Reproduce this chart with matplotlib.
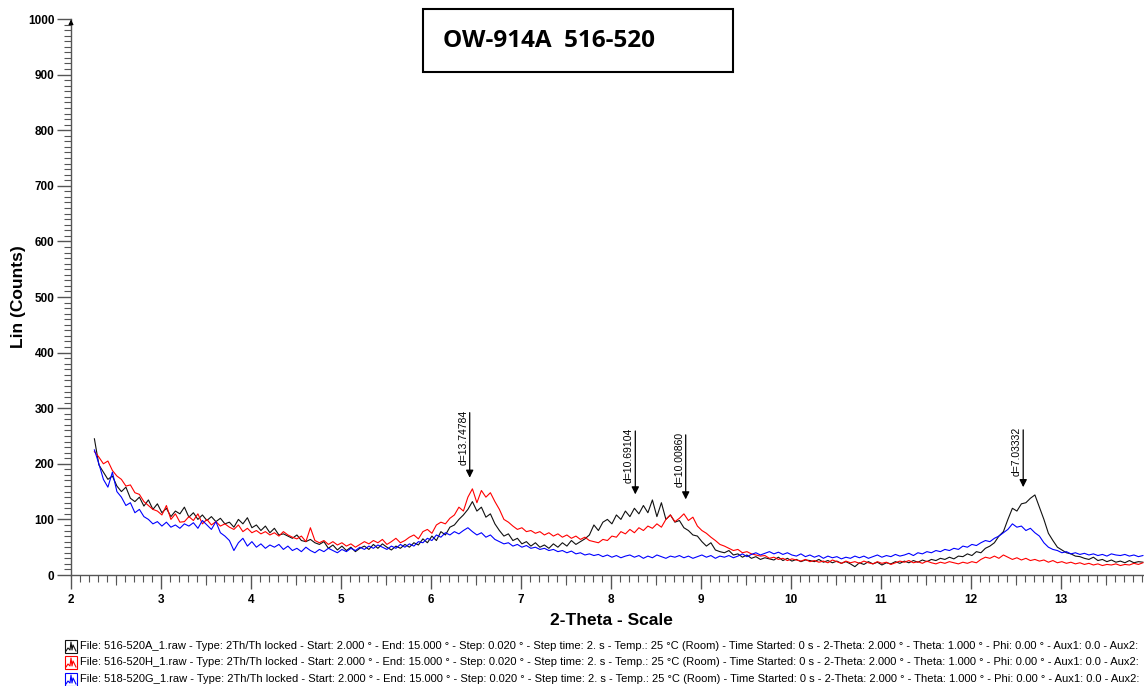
import numpy as np
import matplotlib
matplotlib.use("Agg")
import matplotlib.pyplot as plt
from matplotlib.patches import Rectangle
from matplotlib.lines import Line2D

start_2theta = 2.26
step_2theta = 0.05

counts_a = [
    245, 198, 185, 172, 178, 160, 150, 158, 138, 132,
    140, 124, 135, 118, 128, 112, 120, 105, 115, 110,
    122, 104, 112, 100, 108, 98, 105, 96, 102, 92,
    95, 86, 100, 92, 103, 85, 90, 80, 88, 76,
    84, 72, 74, 70, 66, 72, 62, 60, 64, 58,
    55, 60, 48, 54, 45, 52, 44, 50, 42, 48,
    52, 46, 55, 48, 56, 50, 45, 52, 48, 55,
    50, 58, 54, 65, 58, 70, 62, 78, 72, 86,
    90, 100, 108, 118, 132, 115, 122, 104, 110, 92,
    80, 70, 74, 62, 66, 56, 60, 52, 58, 50,
    54, 48, 56, 50, 58, 52, 62, 55, 60, 65,
    72, 90, 80, 95, 100, 92, 108, 100, 115, 105,
    120, 110, 125, 112, 135, 105, 130, 100, 108, 95,
    98, 85, 80, 72, 70, 60, 52, 58, 45, 42,
    40, 44, 36, 38, 32, 36, 30, 33, 28, 31,
    29, 27, 32, 26, 30, 25, 28, 24, 27, 26,
    24, 28, 23, 26, 22, 25, 21, 24, 20, 15,
    22, 19, 24, 20, 23, 18, 22, 20, 24, 21,
    25, 22, 26, 23, 27, 24, 28, 26, 30, 28,
    32, 29, 34, 33, 38, 35, 42, 40, 48, 52,
    58, 70, 78, 100, 120, 115, 128, 130, 138, 144,
    122, 100, 75, 62, 50, 45, 40, 38, 34, 33,
    30, 28, 32, 26, 28, 24, 27, 23, 25, 22,
    26, 22, 24, 23,
]

counts_h = [
    222, 212, 200, 205, 188, 178, 172, 160, 162, 148,
    145, 132, 125, 118, 115, 108, 125, 100, 110, 95,
    96, 105, 98, 110, 92, 100, 90, 96, 88, 92,
    86, 82, 90, 78, 84, 76, 80, 74, 78, 72,
    76, 70, 78, 72, 68, 65, 70, 60, 85, 62,
    58, 62, 55, 60, 54, 58, 52, 56, 50, 55,
    60, 56, 62, 58, 64, 55, 60, 66, 58, 62,
    68, 72, 65, 78, 82, 75, 90, 95, 92, 102,
    108, 122, 115, 140, 155, 130, 152, 140, 148, 132,
    118, 100, 95, 88, 82, 85, 78, 80, 75, 78,
    72, 76, 70, 74, 68, 72, 66, 70, 64, 68,
    62, 60, 58, 64, 62, 70, 68, 78, 74, 82,
    76, 85, 80, 88, 84, 92, 86, 100, 108, 96,
    102, 110, 98, 104, 88, 80, 75, 68, 62, 55,
    52, 48, 44, 46, 40, 42, 38, 36, 34, 35,
    30, 32, 28, 30, 26, 29, 27, 25, 28, 24,
    26, 23, 25, 22, 27, 24, 21, 25, 22, 24,
    21, 25, 22, 20, 24, 21, 23, 19, 22, 25,
    23, 26, 22, 24, 21, 25, 22, 20, 23, 21,
    24, 22, 20, 23, 21, 24, 22, 28, 32, 30,
    34, 30, 36, 32, 28, 31, 27, 30, 26, 28,
    25, 27, 23, 26, 22, 24, 21, 23, 20, 22,
    19, 21, 18, 20, 17, 19, 18, 20, 17, 19,
    18, 21, 19, 22,
]

counts_g = [
    225, 200, 172, 158, 185, 150, 140, 125, 130, 112,
    118, 105, 100, 92, 96, 88, 95, 86, 90, 84,
    92, 88, 94, 84, 98, 90, 82, 96, 76, 70,
    62, 44, 58, 66, 52, 60, 50, 56, 48, 54,
    50, 55, 46, 52, 44, 48, 42, 50, 44, 40,
    46, 42, 48, 44, 40, 46, 42, 48, 44, 50,
    46, 52, 48, 54, 50, 46, 52, 48, 55, 50,
    56, 52, 60, 58, 66, 62, 72, 68, 76, 72,
    78, 74, 80, 85, 78, 72, 76, 68, 72, 64,
    60, 56, 58, 52, 55, 50, 53, 48, 50, 46,
    48, 44, 46, 42, 44, 40, 43, 38, 40, 36,
    38, 35, 37, 33, 36, 32, 35, 31, 34, 36,
    32, 35, 30, 34, 31, 36, 33, 30, 34, 32,
    35, 31, 34, 30, 33, 36, 32, 35, 30, 34,
    32, 35, 31, 34, 38, 33, 37, 40, 36, 39,
    42, 38, 41, 37, 40, 36, 34, 38, 33, 36,
    32, 35, 30, 34, 31, 33, 29, 32, 30, 34,
    31, 34, 30, 33, 36, 32, 35, 33, 37, 34,
    36, 39, 35, 40, 38, 42, 40, 44, 42, 46,
    44, 48, 46, 52, 50, 55, 53, 58, 62, 60,
    66, 70, 76, 82, 92, 86, 88, 80, 84, 76,
    70, 58, 50, 46, 44, 40, 42, 38, 40, 37,
    39, 36, 38, 35, 37, 34, 38, 36, 35, 37,
    34, 36, 33, 35,
]

# peak markers: position (2-theta), arrow tip and top (counts), d label
peak_pos = [6.43, 8.27, 8.83, 12.58]
peak_tip = [170, 140, 131, 153]
peak_top = [297, 264, 257, 266]
peak_labels = ["d=13.74784", "d=10.69104", "d=10.00860", "d=7.03332"]

file_names = ["516-520A_1.raw", "516-520H_1.raw", "518-520G_1.raw"]
line_colors = ["#111111", "#ff0000", "#0000ff"]
scan_info = (" - Type: 2Th/Th locked - Start: 2.000 \u00b0 - End: 15.000 \u00b0 - Step: 0.020 \u00b0"
             " - Step time: 2. s - Temp.: 25 \u00b0C (Room) - Time Started: 0 s - 2-Theta: 2.000 \u00b0"
             " - Theta: 1.000 \u00b0 - Phi: 0.00 \u00b0 - Aux1: 0.0 - Aux2:")

narrow = ["Liberation Sans Narrow", "Liberation Sans", "DejaVu Sans"]
arial = ["Liberation Sans", "DejaVu Sans"]

W, H = 1144, 686
fig = plt.figure(figsize=(W / 100, H / 100), dpi=100)
ax = fig.add_axes([71 / W, 111 / H, (W - 71) / W, 556 / H])

two_theta = np.round(start_2theta + step_2theta * np.arange(len(counts_a)), 2)
for y, c in zip([counts_a, counts_h, counts_g], line_colors):
    ax.plot(two_theta, y, color=c, lw=0.8)

ax.set_xlim(2, 2 + (W - 71) / 90)
ax.set_ylim(0, 1000)

for s in ["top", "right"]:
    ax.spines[s].set_visible(False)
for s in ["left", "bottom"]:
    ax.spines[s].set_color("#555555")
    ax.spines[s].set_linewidth(1.0)

ax.set_xticks(np.arange(2, 14, 1))
ax.set_xticks(np.arange(2, 14, 0.1), minor=True)
ax.set_yticks(np.arange(0, 1001, 100))
ax.set_yticks(np.arange(0, 1001, 10), minor=True)
ax.tick_params(axis="both", which="major", direction="out", color="#555555", width=1.0)
ax.tick_params(axis="x", which="major", length=10, pad=4)
ax.tick_params(axis="y", which="major", length=10, pad=2)
ax.tick_params(axis="both", which="minor", direction="out", length=5, color="#555555", width=0.8)

for lab in ax.get_xticklabels() + ax.get_yticklabels():
    lab.set_family(narrow)
    lab.set_fontweight("bold")
    lab.set_fontsize(8.5)

# medium ticks at the half degrees
sec = ax.secondary_xaxis("bottom")
sec.set_xticks(np.arange(2.5, 14, 1.0))
sec.tick_params(axis="x", direction="out", length=7, width=0.8, color="#555555", labelbottom=False)
sec.spines["bottom"].set_visible(False)

# small arrow at the top of the y axis
ax.annotate("", xy=(0, 1.004), xytext=(0, 0.985), xycoords="axes fraction",
            arrowprops=dict(arrowstyle="-|>", color="black", lw=0.8, mutation_scale=7),
            annotation_clip=False)

ax.set_xlabel("2-Theta - Scale", fontsize=12.5, fontweight="bold", family=arial)
ax.xaxis.set_label_coords(0.504, -(613 - 575) / 556)
ax.set_ylabel("Lin (Counts)", fontsize=12.5, fontweight="bold", family=arial)
ax.yaxis.set_label_coords(-(71 - 26) / (W - 71), 0.5)

# peak arrows and d-spacing labels
for x, tip, top, lab in zip(peak_pos, peak_tip, peak_top, peak_labels):
    ax.annotate("", xy=(x, tip), xytext=(x, top),
                arrowprops=dict(arrowstyle="-|>", color="black", lw=0.9, mutation_scale=11))
    ax.text(x - 0.015, top, lab, rotation=90, ha="right", va="top", fontsize=7.5, family=arial)

# title box
fig.add_artist(Rectangle((423 / W, 1 - 72 / H), 310 / W, 63 / H, transform=fig.transFigure,
                         facecolor="white", edgecolor="black", lw=1.5))
fig.text(443 / W, 1 - 41 / H, "OW-914A  516-520", fontsize=17.5, fontweight="bold",
         family=["Open Sans", "DejaVu Sans"], va="center", ha="left")

# file legend at the bottom
row_y = [646, 662, 679]
for name, c, ry in zip(file_names, line_colors, row_y):
    y0 = 1 - (ry + 7) / H
    fig.add_artist(Rectangle((65 / W, y0), 12 / W, 13 / H, transform=fig.transFigure,
                             facecolor="white", edgecolor=c, lw=0.8))
    gx = np.array([66, 68, 70, 71, 72, 73, 75, 76]) / W
    gy = 1 - (ry + np.array([5, 2, 4, -4, 4, -1, 3, 5])) / H
    fig.add_artist(Line2D(gx, gy, transform=fig.transFigure, color=c, lw=0.8))
    fig.text(80 / W, 1 - ry / H, "File: " + name + scan_info, fontsize=8.05,
             family=narrow, va="center", ha="left")

fig.savefig("out.png", dpi=100)
